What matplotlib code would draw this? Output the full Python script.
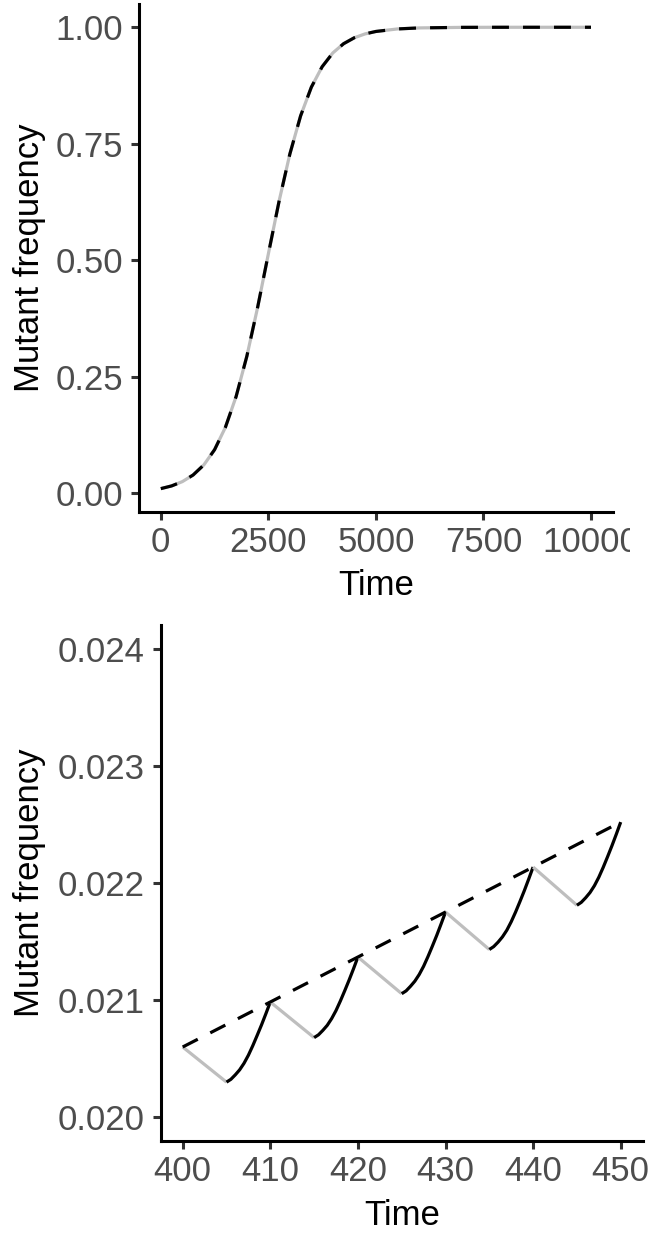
import matplotlib
matplotlib.use("Agg")
import matplotlib.pyplot as plt
from matplotlib.transforms import Bbox, TransformedBbox

# top panel: full sweep (grey = discrete model, dashed = continuous approximation)
sweep_time = [0, 250, 500, 750, 1000, 1250, 1500, 1750, 2000, 2250, 2500, 2750, 3000,
              3250, 3500, 3750, 4000, 4250, 4500, 4750, 5000, 5500, 6000, 7000, 8000, 10000]
sweep_freq = [0.0100, 0.0158, 0.0250, 0.0392, 0.0609, 0.0936, 0.1412, 0.2075, 0.2941,
              0.3987, 0.5137, 0.6271, 0.7281, 0.8100, 0.8716, 0.9153, 0.9451, 0.9648,
              0.9776, 0.9858, 0.9910, 0.9964, 0.9986, 0.9998, 1.0000, 1.0000]

# bottom panel: zoom on 400-450
peak_time = [400, 410, 420, 430, 440, 450]
peak_freq = [0.020600, 0.020984, 0.021368, 0.021752, 0.022136, 0.022520]
dip_time = [405, 415, 425, 435, 445]
dip_freq = [0.020300, 0.020680, 0.021055, 0.021432, 0.021810]
growth_step = 0.5
growth_freq = [
    [0.020300, 0.020324, 0.020362, 0.020405, 0.020461, 0.020530, 0.020611, 0.020699, 0.020789, 0.020885, 0.020984],
    [0.020680, 0.020704, 0.020742, 0.020785, 0.020842, 0.020911, 0.020993, 0.021081, 0.021172, 0.021268, 0.021368],
    [0.021055, 0.021079, 0.021118, 0.021162, 0.021219, 0.021289, 0.021372, 0.021461, 0.021553, 0.021651, 0.021752],
    [0.021432, 0.021457, 0.021495, 0.021540, 0.021597, 0.021669, 0.021752, 0.021842, 0.021935, 0.022034, 0.022136],
    [0.021810, 0.021835, 0.021874, 0.021919, 0.021977, 0.022049, 0.022133, 0.022224, 0.022318, 0.022417, 0.022520],
]
approx_time = [400, 450]
approx_freq = [0.02060, 0.02252]

top_xticks = [0, 2500, 5000, 7500, 10000]
top_yticks = [0.00, 0.25, 0.50, 0.75, 1.00]
bot_xticks = [400, 410, 420, 430, 440, 450]
bot_yticks = [0.020, 0.021, 0.022, 0.023, 0.024]

W, H = 654, 1233
FS = 25
GREY = "#BEBEBE"
LW = 2.3
DASH = (5.3, 4.4)

plt.rcParams["font.family"] = ["Liberation Sans", "DejaVu Sans"]

fig = plt.figure(figsize=(W / 100, H / 100), dpi=100)


def px_axes(left, top, right, bottom):
    return fig.add_axes([left / W, 1 - bottom / H, (right - left) / W, (bottom - top) / H])


def style(ax):
    for side in ["top", "right"]:
        ax.spines[side].set_visible(False)
    for side in ["left", "bottom"]:
        ax.spines[side].set_linewidth(2.2)
        ax.spines[side].set_color("black")
    ax.tick_params(axis="both", length=5.5, width=2.2, color="#333333",
                   labelsize=FS, labelcolor="#4D4D4D")
    ax.tick_params(axis="x", pad=5)
    ax.tick_params(axis="y", pad=6)
    ax.set_facecolor("white")


ax1 = px_axes(139.3, 4.2, 612.5, 511.7)
ax1.plot(sweep_time, sweep_freq, color=GREY, lw=LW, solid_capstyle="butt")
ax1.plot(sweep_time, sweep_freq, color="black", lw=LW, dashes=DASH)
ax1.set_xlim(-500, 10500)
ax1.set_ylim(-0.0395, 1.0495)
ax1.set_xticks(top_xticks)
ax1.set_xticklabels([str(t) for t in top_xticks])
ax1.set_yticks(top_yticks)
ax1.set_yticklabels([f"{v:.2f}" for v in top_yticks])
style(ax1)
# the top panel cuts off its last tick label like the original
clip = TransformedBbox(Bbox([[0, 0], [630 / W, 1]]), fig.transFigure)
for lbl in ax1.get_xticklabels():
    lbl.set_clip_box(clip)
    lbl.set_clip_on(True)

ax2 = px_axes(160.8, 625.3, 642.6, 1140.7)
for i in range(len(dip_time)):
    ax2.plot([peak_time[i], dip_time[i]], [peak_freq[i], dip_freq[i]],
             color=GREY, lw=LW, solid_capstyle="butt")
    seg_t = [dip_time[i] + k * growth_step for k in range(len(growth_freq[i]))]
    ax2.plot(seg_t, growth_freq[i], color="black", lw=LW, solid_capstyle="butt")
ax2.plot(approx_time, approx_freq, color="black", lw=LW, dashes=DASH)
ax2.set_xlim(397.5, 452.5)
ax2.set_ylim(0.0198, 0.0242)
ax2.set_xticks(bot_xticks)
ax2.set_xticklabels([str(t) for t in bot_xticks])
ax2.set_yticks(bot_yticks)
ax2.set_yticklabels([f"{v:.3f}" for v in bot_yticks])
style(ax2)

fig.text(375.9 / W, 1 - 595 / H, "Time", fontsize=FS, ha="center", va="baseline")
fig.text(401.7 / W, 1 - 1225 / H, "Time", fontsize=FS, ha="center", va="baseline")
fig.text(29.3 / W, 1 - 258 / H, "Mutant frequency", fontsize=FS, rotation=90,
         ha="center", va="center")
fig.text(29.3 / W, 1 - 883 / H, "Mutant frequency", fontsize=FS, rotation=90,
         ha="center", va="center")

fig.savefig("out.png", dpi=100, facecolor="white")
